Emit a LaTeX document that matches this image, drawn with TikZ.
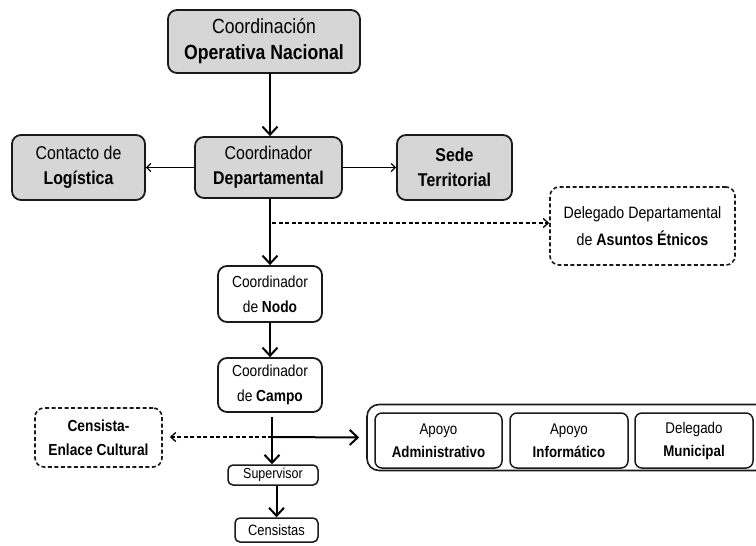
\documentclass[tikz,border=0pt]{standalone}
\usepackage{fontspec}
\setmainfont{Liberation Sans}[FakeStretch=0.86]
\usetikzlibrary{arrows.meta}
\definecolor{boxgray}{HTML}{D6D6D6}
\definecolor{linec}{HTML}{1A1A1A}
\begin{document}
\begin{tikzpicture}[x=1pt,y=-1pt,
  base/.style={draw=linec,line width=1.8pt,rounded corners=9pt,align=center,inner sep=0pt,text=black},
  grayb/.style={base,fill=boxgray},
  whiteb/.style={base,fill=white},
  dashb/.style={base,dashed,dash pattern=on 4pt off 2.5pt,line width=1.6pt},
  main/.style={-{Straight Barb[length=8pt,width=15pt,line width=2pt]},line width=2pt,draw=black},
  thin/.style={-{Straight Barb[length=4pt,width=8pt,line width=1.3pt]},line width=1pt,draw=black},
  dsh/.style={-{Straight Barb[length=5pt,width=9pt,line width=1.3pt]},line width=1.2pt,dashed,dash pattern=on 4pt off 2.5pt}
]
\useasboundingbox (0,0) rectangle (756,546);
\fill[white] (0,0) rectangle (756,546);

\node[grayb,minimum width=192pt,minimum height=63pt,font=\fontsize{20.5}{26}\selectfont] (ocn) at (264,41.5)
  {Coordinación\\\textbf{Operativa Nacional}};
\node[grayb,minimum width=147pt,minimum height=61pt,font=\fontsize{18.5}{25}\selectfont] (cd) at (268.5,167.5)
  {Coordinador\\\textbf{Departamental}};
\node[grayb,minimum width=133pt,minimum height=65pt,font=\fontsize{18.5}{25}\selectfont] (log) at (78.5,167.5)
  {Contacto de\\\textbf{Logística}};
\node[grayb,minimum width=115pt,minimum height=65pt,font=\fontsize{18.5}{25}\selectfont] (sede) at (454.5,167.5)
  {\textbf{Sede}\\\textbf{Territorial}};
\node[dashb,minimum width=185pt,minimum height=78pt,font=\fontsize{16.5}{27}\selectfont] (del) at (642.5,226)
  {Delegado Departamental\\de \textbf{Asuntos Étnicos}};
\node[whiteb,minimum width=104pt,minimum height=56pt,font=\fontsize{16}{25}\selectfont] (nodo) at (270,294)
  {Coordinador\\de \textbf{Nodo}};
\node[whiteb,minimum width=104pt,minimum height=54pt,font=\fontsize{16}{25}\selectfont] (campo) at (270,385)
  {Coordinador\\de \textbf{Campo}};
\node[dashb,minimum width=127pt,minimum height=59pt,font=\fontsize{16}{24}\selectfont] (cen) at (98.5,437.5)
  {\textbf{Censista-}\\\textbf{Enlace Cultural}};
\node[whiteb,rounded corners=5pt,line width=1.5pt,minimum width=90pt,minimum height=20pt,font=\fontsize{14.5}{15}\selectfont] (sup) at (273,475)
  {Supervisor};
\node[whiteb,rounded corners=5pt,line width=1.5pt,minimum width=83pt,minimum height=24pt,font=\fontsize{15}{16}\selectfont] (cens) at (276.5,530)
  {Censistas};

\node[base,fill=none,line width=1.6pt,rounded corners=12pt,minimum width=420pt,minimum height=66pt] (grp) at (577,437.5) {};
\node[whiteb,line width=1.5pt,rounded corners=7pt,minimum width=127pt,minimum height=55pt,font=\fontsize{15.5}{23}\selectfont] (adm) at (438.5,440.5)
  {Apoyo\\\textbf{Administrativo}};
\node[whiteb,line width=1.5pt,rounded corners=7pt,minimum width=118pt,minimum height=55pt,font=\fontsize{15.5}{23}\selectfont] (inf) at (569,440.5)
  {Apoyo\\\textbf{Informático}};
\node[whiteb,line width=1.5pt,rounded corners=7pt,minimum width=118pt,minimum height=55pt,font=\fontsize{15.5}{23}\selectfont] (mun) at (694,440.5)
  {Delegado\\\textbf{Municipal}};

\coordinate (t1) at (270,73);
\draw[main] (t1) -- (t1 |- cd.north);
\draw[thin] (cd.west) -- (log.east);
\draw[thin] (cd.east) -- (sede.west);
\draw[main] (cd.south -| nodo.north) -- (nodo.north);
\coordinate (dj) at (272,223);
\draw[dsh] (dj) -- (del.west |- dj);
\draw[main] (nodo.south) -- (campo.north);
\coordinate (cj) at (272,437);
\coordinate (ct) at (272,417);
\draw[dsh] (cj) -- ([xshift=7pt]cen.east |- cj);
\draw[main] (cj) -- ([xshift=-7pt]grp.west);
\draw[main] (ct) -- (ct |- sup.north);
\draw[main] (sup.south -| cens.north) -- (cens.north);
\end{tikzpicture}
\end{document}
